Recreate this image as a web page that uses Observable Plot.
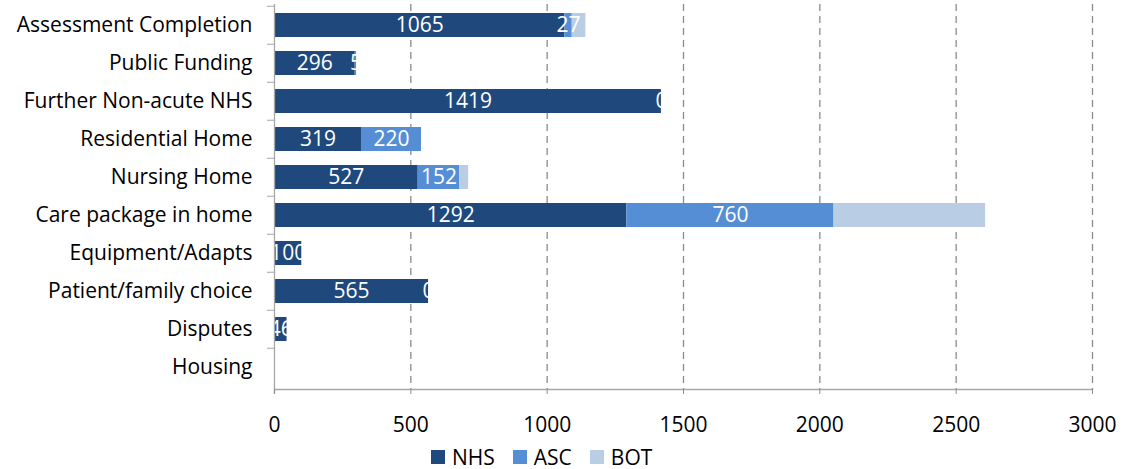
<!DOCTYPE html>
<html>
<head>
<meta charset="utf-8">
<script src="https://cdn.jsdelivr.net/npm/d3@7"></script>
<script src="https://cdn.jsdelivr.net/npm/@observablehq/plot@0.6"></script>
<style>
  body { margin: 0; background: #fff; font-family: "Open Sans", sans-serif; }
  #legend { box-sizing: border-box; display: flex; align-items: center; height: 29px; padding-top: 4px; margin-left: 431px; font-size: 21px; line-height: 24px; color: #000; }
  #legend .item { display: flex; align-items: center; margin-right: 18px; }
  #legend .sw { width: 14px; height: 14px; margin-right: 7px; }
</style>
</head>
<body>
<div id="chart"></div>
<div id="legend"></div>
<script>
const categories = ["Assessment Completion", "Public Funding", "Further Non-acute NHS", "Residential Home", "Nursing Home", "Care package in home", "Equipment/Adapts", "Patient/family choice", "Disputes", "Housing"];
const series = ["NHS", "ASC", "BOT"];
const colors = ["#1F497D", "#558ED5", "#B9CDE5"];
const nhs = [1065, 296, 1419, 319, 527, 1292, 100, 565, 46, 2];
const asc = [27, 5, 0, 220, 152, 760, 0, 0, 0, 0];
const bot = [50, 0, 0, 0, 33, 556, 0, 0, 0, 0];
const ascLabelled = [true, true, true, true, true, true, false, true, false, false];
const xTicks = [0, 500, 1000, 1500, 2000, 2500, 3000];

const rows = [];
categories.forEach((c, i) => {
  rows.push({cat: c, series: "NHS", value: nhs[i], label: String(nhs[i])});
  rows.push({cat: c, series: "ASC", value: asc[i], label: ascLabelled[i] ? String(asc[i]) : null});
  rows.push({cat: c, series: "BOT", value: bot[i], label: null});
});

const font = "'Open Sans', sans-serif";
const chart = Plot.plot({
  width: 1136,
  height: 440,
  marginTop: 4,
  marginBottom: 51,
  marginLeft: 274,
  marginRight: 44,
  style: {fontFamily: font, fontSize: "21px", color: "#000", background: "#fff", overflow: "visible"},
  x: {domain: [0, 3000], ticks: xTicks, label: null},
  y: {domain: categories, paddingInner: 0.36, paddingOuter: 0.18, label: null},
  color: {domain: series, range: colors},
  marks: [
    Plot.gridX(xTicks.slice(1), {stroke: "#8c8c8c", strokeOpacity: 1, strokeWidth: 1.3, strokeDasharray: "7,5"}),
    Plot.barX(rows, Plot.stackX({y: "cat", x: "value", z: "series", fill: "series", order: series})),
    Plot.textX(rows, Plot.stackX({y: "cat", x: "value", z: "series", text: "label", order: series, fill: "white", fontSize: 21})),
    Plot.ruleX([0], {stroke: "#a6a6a6", strokeWidth: 1.3, insetBottom: -5}),
    Plot.frame({anchor: "bottom", stroke: "#a6a6a6", strokeWidth: 1.3}),
    Plot.axisX({ticks: xTicks, tickSize: 5, tickPadding: 23, stroke: "#8c8c8c", fontSize: 21, label: null, tickFormat: d => String(d)}),
    Plot.axisY({tickSize: 0, tickPadding: 22, fontSize: 21, label: null}),
    Plot.axisY({tickSize: 7, tickFormat: () => "", dy: -19.25, stroke: "#a6a6a6", label: null})
  ]
});
document.getElementById("chart").append(chart);

const legend = document.getElementById("legend");
series.forEach((s, i) => {
  const item = document.createElement("div");
  item.className = "item";
  const sw = document.createElement("div");
  sw.className = "sw";
  sw.style.background = colors[i];
  const t = document.createElement("span");
  t.textContent = s;
  item.append(sw, t);
  legend.append(item);
});
</script>
</body>
</html>
